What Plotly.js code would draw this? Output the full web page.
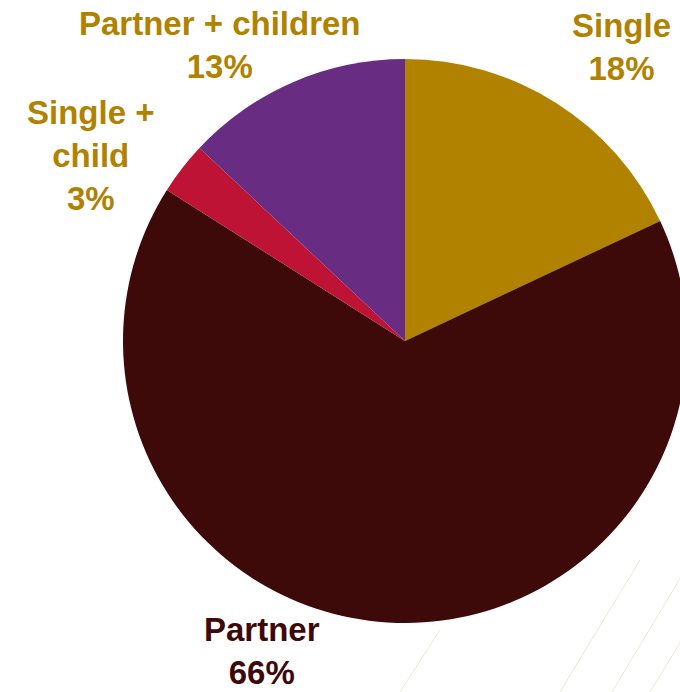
<!DOCTYPE html>
<html>
<head>
<meta charset="utf-8">
<script src="https://cdn.plot.ly/plotly-3.0.1.min.js"></script>
<style>
html,body{margin:0;padding:0;overflow:hidden;background:#fff;width:680px;height:692px;}
#chart{width:810px;height:692px;}
</style>
</head>
<body>
<div id="chart"></div>
<script>
const categories = ["Single", "Partner", "Single + child", "Partner + children"];
const values = [18, 66, 3, 13];
const labelTexts = ["Single<br>18%", "Partner<br>66%", "Single +<br>child<br>3%", "Partner + children<br>13%"];
const colors = ["#B08200", "#3D0909", "#BE1335", "#682D82"];
const labelColors = ["#B08200", "#3D0909", "#B08200", "#B08200"];

const W = 810, H = 692;
const labelPos = [[621, 47], [262, 651], [90, 155], [220, 45]];

const annotations = categories.map((c, i) => ({
  text: labelTexts[i],
  x: labelPos[i][0] / W, y: 1 - labelPos[i][1] / H,
  xref: "paper", yref: "paper", xanchor: "center", yanchor: "middle",
  showarrow: false,
  font: {family: "Liberation Sans, Arial, sans-serif", size: 33, color: labelColors[i], weight: 700}
}));

const shapes = [
  [612, 692, 700, 545], [560, 692, 640, 560], [400, 692, 440, 630], [650, 692, 700, 610]
].map(l => ({type: "line", xref: "paper", yref: "paper",
  x0: l[0] / W, y0: 1 - l[1] / H, x1: l[2] / W, y1: 1 - l[3] / H,
  line: {color: "rgba(200,185,140,0.35)", width: 1}, layer: "below"}));

const cx = 405, cy = 341, r = 282;
const trace = {
  type: "pie",
  labels: categories,
  values: values,
  sort: false,
  direction: "clockwise",
  rotation: 0,
  textinfo: "none",
  hoverinfo: "label+percent",
  marker: {colors: colors, line: {width: 0}},
  domain: {x: [(cx - r) / W, (cx + r) / W], y: [(H - cy - r) / H, (H - cy + r) / H]},
  showlegend: false
};

Plotly.newPlot("chart", [trace], {
  width: W, height: H,
  margin: {l: 0, r: 0, t: 0, b: 0},
  paper_bgcolor: "#ffffff",
  annotations: annotations,
  shapes: shapes,
  showlegend: false
}, {displayModeBar: false, staticPlot: true});
</script>
</body>
</html>
